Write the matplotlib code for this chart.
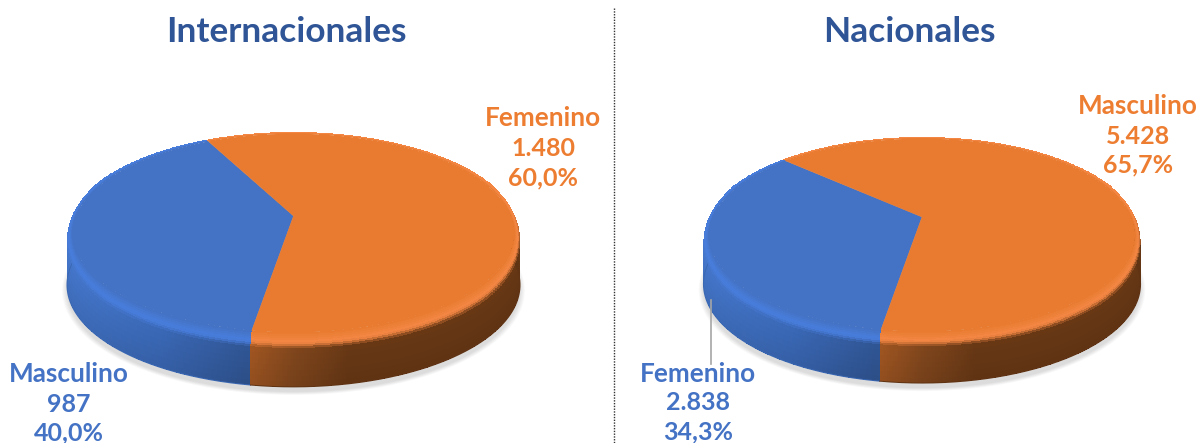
import numpy as np
import matplotlib
matplotlib.use("Agg")
import matplotlib.pyplot as plt
from matplotlib.colors import to_rgb

plt.rcParams['font.family'] = ['Lato', 'DejaVu Sans']

# data
titles = ["Internacionales", "Nacionales"]
left_labels = ["Masculino", "Femenino"]
left_values = [987, 1480]
right_labels = ["Femenino", "Masculino"]
right_values = [2838, 5428]

BLUE = "#4472C4"
ORANGE = "#E97B30"
TEXT_BLUE = "#4472C4"
TITLE_BLUE = "#2F5597"

side_stops = [-1, -0.5, -0.18, 0.0, 0.2, 1]
blue_side = ["#3F6DBB", "#355FA6", "#2C4E87", "#2C4E87", "#2C4E87", "#2C4E87"]
orange_side = ["#96501F", "#96501F", "#96501F", "#75401A", "#5F3313", "#5F3313"]


def side_color(cols, c):
    rgb = np.array([to_rgb(x) for x in cols])
    return np.stack([np.interp(c, side_stops, rgb[:, i]) for i in range(3)], axis=-1)


def project(th, r, p):
    # circle -> perspective ellipse
    u = r * np.cos(th)
    v = r * np.sin(th)
    w = 1 + p["k"] * v
    return p["cx"] + p["a"] * u / w, p["cy"] - p["b"] * v / w


def drop(th, p):
    return p["bevel"] * np.clip(0.35 - np.sin(th), 0, 1)


def draw_wall(ax, t0, t1, cols, p):
    th = np.radians(np.linspace(t0, t1, max(int(abs(t1 - t0) * 3), 2)))
    tc = (th[:-1] + th[1:]) / 2
    side = side_color(cols, np.cos(tc))
    x, y = project(th, 1.0, p)
    d = drop(th, p)
    s = np.linspace(0, 1, 8)
    X = np.outer(x, np.ones_like(s))
    Y = np.outer(y + d, 1 - s) + np.outer(y + p["depth"], s)
    shade = 1.0 + 0.10 * (1 - (s[:-1] + s[1:]) / 2)
    C = side[:, None, :] * shade[None, :, None]
    ax.pcolormesh(X, Y, np.clip(C, 0, 1), shading="flat", antialiased=False,
                  linewidth=0, zorder=3)
    ax.plot(x, y + p["depth"], color=tuple(side[len(side) // 2]), lw=0.7, zorder=3)


def draw_bevel(ax, t0, t1, cols, face, p):
    # rounded edge between top and wall, goes all the way round the slice
    th = np.radians(np.linspace(t0, t1, max(int(abs(t1 - t0) * 3), 2)))
    tc = (th[:-1] + th[1:]) / 2
    side = side_color(cols, np.cos(tc))
    fade = np.clip(0.25 - np.sin(tc) * 3, 0, 1)[:, None]
    x, y = project(th, 1.0, p)
    d = drop(th, p)
    xi, yi = project(th, 0.975, p)
    s = np.linspace(0, 1, 9)
    X = np.outer(xi, 1 - s) + np.outer(x, s)
    Y = np.outer(yi, 1 - s) + np.outer(y + d, s)
    f = np.array(to_rgb(face))
    hi = np.clip(f * 1.03 + np.array([0.01, 0.03, 0.07]), 0, 1)
    sc = (s[:-1] + s[1:]) / 2
    C = np.zeros((len(tc), len(sc), 3))
    for j, sv in enumerate(sc):
        if sv < 0.6:
            C[:, j, :] = f + (hi - f) * sv / 0.6
        else:
            C[:, j, :] = hi + (side * 1.1 - hi) * fade * ((sv - 0.6) / 0.4) ** 1.8
    ax.pcolormesh(X, Y, np.clip(C, 0, 1), shading="flat", antialiased=False,
                  linewidth=0, zorder=4)


def draw_pie(ax, values, colors, sides, start, p):
    # soft shadow under the disc
    th = np.radians(np.linspace(0, 360, 361))
    for i in range(7):
        x, y = project(th, 1.0 + 0.0035 * i, p)
        ax.fill(x, y + p["depth"] + 5, color="#000000", alpha=0.02, lw=0, zorder=1)

    spans = np.array(values) / np.sum(values) * 360
    a0 = start
    for val, span, col, cols in zip(values, spans, colors, sides):
        a1 = a0 + span
        # wall only where it faces the viewer
        lo, hi = max(a0, 170), min(a1, 370)
        if hi > lo:
            draw_wall(ax, lo, hi, cols, p)
        draw_bevel(ax, a0, a1, cols, col, p)
        t = np.radians(np.linspace(a0, a1, 300))
        x, y = project(t, 0.976, p)
        ax.fill(np.r_[p["cx"], x], np.r_[p["cy"], y], color=col, lw=0.3, zorder=5)
        a0 = a1


def fmt(v):
    return f"{v:,}".replace(",", ".")


def pct(v, vals):
    return f"{v / sum(vals) * 100:.1f}%".replace(".", ",")


def label(ax, name, v, vals, x, ys, color):
    sizes = [18.8, 18, 18]
    for txt, y, sz in zip([name, fmt(v), pct(v, vals)], ys, sizes):
        ax.text(x, y, txt, ha="center", va="center", color=color,
                fontsize=sz, fontweight="bold", zorder=8)


fig = plt.figure(figsize=(12.04, 4.43), dpi=100)
ax = fig.add_axes([0, 0, 1, 1])
ax.set_xlim(0, 1204)
ax.set_ylim(443, 0)
ax.axis("off")

left_geo = dict(cx=293.5, cy=216, a=223, b=98.8, k=0.176, bevel=12, depth=51)
right_geo = dict(cx=922, cy=217, a=214.5, b=95.4, k=0.192, bevel=11, depth=48)

draw_pie(ax, left_values, [BLUE, ORANGE], [blue_side, orange_side], 116.8, left_geo)
draw_pie(ax, right_values, [BLUE, ORANGE], [blue_side, orange_side], 137.2, right_geo)

ax.text(286.5, 32, titles[0], ha="center", va="center", color=TITLE_BLUE,
        fontsize=25.4, fontweight="bold")
ax.text(909.5, 32, titles[1], ha="center", va="center", color=TITLE_BLUE,
        fontsize=25.4, fontweight="bold")

label(ax, left_labels[1], left_values[1], left_values, 543, [118, 148, 178], "#ED7D31")
label(ax, left_labels[0], left_values[0], left_values, 69, [374, 404, 433], TEXT_BLUE)
label(ax, right_labels[1], right_values[1], right_values, 1138, [106, 136, 165], "#ED7D31")
label(ax, right_labels[0], right_values[0], right_values, 698, [374, 403, 432], TEXT_BLUE)

# leader line and divider
ax.plot([711, 711], [300, 364], color="#A6A6A6", lw=1.2, zorder=6)
ax.plot([614, 614], [8, 443], color="#333333", lw=1, ls=(0, (1, 1)), zorder=2)

fig.savefig("out.png", dpi=100)
